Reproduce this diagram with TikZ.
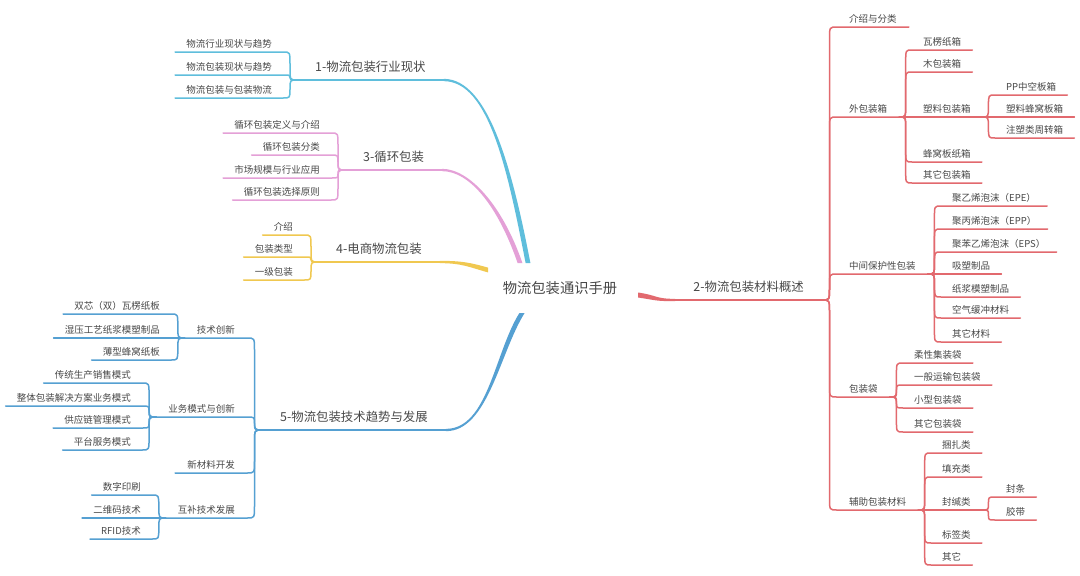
\documentclass[tikz,border=0pt]{standalone}
\usepackage{fontspec}
\setmainfont{Noto Sans CJK SC}
\usetikzlibrary{calc}
\definecolor{cyanc}{RGB}{95,190,220}
\definecolor{pinkc}{RGB}{228,160,215}
\definecolor{yellc}{RGB}{240,200,80}
\definecolor{bluec}{RGB}{85,160,210}
\definecolor{redc}{RGB}{226,105,110}
\definecolor{txtc}{RGB}{72,72,72}
\tikzset{
  leaf/.style={font=\fontsize{9.5}{11}\selectfont, text=txtc, inner xsep=11pt, inner ysep=4.5pt, text height=8pt, text depth=0pt},
  mid/.style={leaf, inner xsep=12pt},
  mainlbl/.style={font=\fontsize{12.4}{14}\selectfont, text=txtc, inner xsep=18pt, inner ysep=8.5pt, text height=10pt, text depth=0pt},
  Rn/.style={anchor=south west},
  Ln/.style={anchor=south east},
  subln/.style={line width=1.5pt, line cap=round, line join=round},
  mainln/.style={line width=2.3pt, line cap=round}
}
\newcommand\brc[4]{\draw[subln,#1] let \p1=(#2), \p2=(#3), \n1={max(-12,min(12,(\y2-\y1)/2))}, \n2={(\x2-\x1)/2} in (\p1) .. controls ({\x1+\n2},\y1) .. ({\x1+\n2},{\y1+(\n1)}) -- ({\x1+\n2},{\y2-(\n1)}) .. controls ({\x1+\n2},\y2) .. (\p2) -- (#4);}
\begin{document}
\begin{tikzpicture}[x=1pt,y=-1pt]
\fill[white] (0,0) rectangle (1080,576);
\useasboundingbox (0,0) rectangle (1080,576);

% centre
\node[font=\fontsize{14.3}{16}\selectfont, text=txtc] (ct) at (560,288) {物流包装通识手册};
\coordinate (e1) at (528,263);
\coordinate (e3) at (520,263);
\coordinate (e4) at (488,270);
\coordinate (e5) at (522,313);
\coordinate (e2) at (638,295);

% ---------- branch 1 ----------
\node[mainlbl,anchor=south west] (b1) at (297,80) {1-物流包装行业现状};
\node[leaf,Ln] (b1a) at (283,52) {物流行业现状与趋势};
\node[leaf,Ln] (b1b) at (283,75) {物流包装现状与趋势};
\node[leaf,Ln] (b1c) at (283,98) {物流包装与包装物流};
\draw[mainln,cyanc] (b1.south west) -- (b1.south east);
\fill[cyanc] ([yshift=1.15pt]b1.south east) .. controls +(45,0) and +(-18,-93) .. ([xshift=2.4pt]e1) -- ([xshift=-2.4pt]e1) .. controls +(-18,-93) and +(45,0) .. ([yshift=-1.15pt]b1.south east) -- cycle;
\brc{cyanc}{b1.south west}{b1a.south east}{b1a.south west}
\brc{cyanc}{b1.south west}{b1b.south east}{b1b.south west}
\brc{cyanc}{b1.south west}{b1c.south east}{b1c.south west}

% ---------- branch 3 ----------
\node[mainlbl,anchor=south west] (b3) at (345,170) {3-循环包装};
\node[leaf,Ln] (b3a) at (331,133) {循环包装定义与介绍};
\node[leaf,Ln] (b3b) at (331,155) {循环包装分类};
\node[leaf,Ln] (b3c) at (331,178) {市场规模与行业应用};
\node[leaf,Ln] (b3d) at (331,200) {循环包装选择原则};
\draw[mainln,pinkc] (b3.south west) -- (b3.south east);
\fill[pinkc] ([yshift=1.15pt]b3.south east) .. controls +(27,0) and +(-20,-58) .. ([xshift=2.4pt]e3) -- ([xshift=-2.4pt]e3) .. controls +(-20,-58) and +(27,0) .. ([yshift=-1.15pt]b3.south east) -- cycle;
\brc{pinkc}{b3.south west}{b3a.south east}{b3a.south west}
\brc{pinkc}{b3.south west}{b3b.south east}{b3b.south west}
\brc{pinkc}{b3.south west}{b3c.south east}{b3c.south west}
\brc{pinkc}{b3.south west}{b3d.south east}{b3d.south west}

% ---------- branch 4 ----------
\node[mainlbl,anchor=south west] (b4) at (318,262) {4-电商物流包装};
\node[leaf,Ln] (b4a) at (304,235) {介绍};
\node[leaf,Ln] (b4b) at (304,257) {包装类型};
\node[leaf,Ln] (b4c) at (304,280) {一级包装};
\draw[mainln,yellc] (b4.south west) -- (b4.south east);
\fill[yellc] ([yshift=1.15pt]b4.south east) .. controls +(22,0) and +(-18,-5) .. ([yshift=2.4pt]e4) -- ([yshift=-2.4pt]e4) .. controls +(-18,-5) and +(22,0) .. ([yshift=-1.15pt]b4.south east) -- cycle;
\brc{yellc}{b4.south west}{b4a.south east}{b4a.south west}
\brc{yellc}{b4.south west}{b4b.south east}{b4b.south west}
\brc{yellc}{b4.south west}{b4c.south east}{b4c.south west}

% ---------- branch 5 ----------
\node[mainlbl,anchor=south west] (b5) at (262,430) {5-物流包装技术趋势与发展};
\node[mid,Ln] (b5a) at (247,338) {技术创新};
\node[leaf,Ln] (b5a1) at (171,314) {双芯（双）瓦楞纸板};
\node[leaf,Ln] (b5a2) at (171,338) {湿压工艺纸浆模塑制品};
\node[leaf,Ln] (b5a3) at (171,360) {薄型蜂窝纸板};
\node[mid,Ln] (b5b) at (247,417) {业务模式与创新};
\node[leaf,Ln] (b5b1) at (142,383) {传统生产销售模式};
\node[leaf,Ln] (b5b2) at (142,406) {整体包装解决方案业务模式};
\node[leaf,Ln] (b5b3) at (142,428) {供应链管理模式};
\node[leaf,Ln] (b5b4) at (142,450) {平台服务模式};
\node[mid,Ln] (b5c) at (247,473) {新材料开发};
\node[mid,Ln] (b5d) at (247,518) {互补技术发展};
\node[leaf,Ln] (b5d1) at (152,495) {数字印刷};
\node[leaf,Ln] (b5d2) at (152,518) {二维码技术};
\node[leaf,Ln] (b5d3) at (152,539) {RFID技术};
\draw[mainln,bluec] (b5.south west) -- (b5.south east);
\fill[bluec] ([yshift=-1.15pt]b5.south east) .. controls +(42,0) and +(-25,40) .. ([xshift=2.6pt]e5) -- ([xshift=-2.6pt]e5) .. controls +(-25,40) and +(42,0) .. ([yshift=1.15pt]b5.south east) -- cycle;
\brc{bluec}{b5.south west}{b5a.south east}{b5a.south west}
\brc{bluec}{b5.south west}{b5b.south east}{b5b.south west}
\brc{bluec}{b5.south west}{b5c.south east}{b5c.south west}
\brc{bluec}{b5.south west}{b5d.south east}{b5d.south west}
\brc{bluec}{b5a.south west}{b5a1.south east}{b5a1.south west}
\brc{bluec}{b5a.south west}{b5a2.south east}{b5a2.south west}
\brc{bluec}{b5a.south west}{b5a3.south east}{b5a3.south west}
\brc{bluec}{b5b.south west}{b5b1.south east}{b5b1.south west}
\brc{bluec}{b5b.south west}{b5b2.south east}{b5b2.south west}
\brc{bluec}{b5b.south west}{b5b3.south east}{b5b3.south west}
\brc{bluec}{b5b.south west}{b5b4.south east}{b5b4.south west}
\brc{bluec}{b5d.south west}{b5d1.south east}{b5d1.south west}
\brc{bluec}{b5d.south west}{b5d2.south east}{b5d2.south west}
\brc{bluec}{b5d.south west}{b5d3.south east}{b5d3.south west}

% ---------- branch 2 ----------
\node[mainlbl,anchor=south east] (b2) at (822,300) {2-物流包装材料概述};
\node[mid,Rn] (b2a) at (837,27) {介绍与分类};
\node[mid,Rn] (b2b) at (837,117) {外包装箱};
\node[leaf,Rn] (b2b1) at (912,50) {瓦楞纸箱};
\node[leaf,Rn] (b2b2) at (912,72) {木包装箱};
\node[leaf,Rn] (b2b3) at (912,117) {塑料包装箱};
\node[leaf,Rn] (b2b3a) at (995,95) {PP中空板箱};
\node[leaf,Rn] (b2b3b) at (995,117) {塑料蜂窝板箱};
\node[leaf,Rn] (b2b3c) at (995,138) {注塑类周转箱};
\node[leaf,Rn] (b2b4) at (912,162) {蜂窝板纸箱};
\node[leaf,Rn] (b2b5) at (912,183) {其它包装箱};
\node[mid,Rn] (b2c) at (837,274) {中间保护性包装};
\node[leaf,Rn] (b2c1) at (941,206) {聚乙烯泡沫（EPE）};
\node[leaf,Rn] (b2c2) at (941,229) {聚丙烯泡沫（EPP）};
\node[leaf,Rn] (b2c3) at (941,252) {聚苯乙烯泡沫（EPS）};
\node[leaf,Rn] (b2c4) at (941,274) {吸塑制品};
\node[leaf,Rn] (b2c5) at (941,297) {纸浆模塑制品};
\node[leaf,Rn] (b2c6) at (941,318) {空气缓冲材料};
\node[leaf,Rn] (b2c7) at (941,342) {其它材料};
\node[mid,Rn] (b2d) at (837,397) {包装袋};
\node[leaf,Rn] (b2d1) at (903,363) {柔性集装袋};
\node[leaf,Rn] (b2d2) at (903,385) {一般运输包装袋};
\node[leaf,Rn] (b2d3) at (903,408) {小型包装袋};
\node[leaf,Rn] (b2d4) at (903,432) {其它包装袋};
\node[mid,Rn] (b2e) at (837,510) {辅助包装材料};
\node[leaf,Rn] (b2e1) at (931,453) {捆扎类};
\node[leaf,Rn] (b2e2) at (931,477) {填充类};
\node[leaf,Rn] (b2e3) at (931,510) {封缄类};
\node[leaf,Rn] (b2e3a) at (995,497) {封条};
\node[leaf,Rn] (b2e3b) at (995,520) {胶带};
\node[leaf,Rn] (b2e4) at (931,543) {标签类};
\node[leaf,Rn] (b2e5) at (931,565) {其它};
\draw[mainln,redc] (b2.south west) -- (b2.south east);
\fill[redc] ([yshift=2.5pt]e2) .. controls +(20,3) and +(-20,0) .. ([yshift=1.15pt]b2.south west) -- ([yshift=-1.15pt]b2.south west) .. controls +(-20,0) and +(20,3) .. ([yshift=-2.5pt]e2) -- cycle;
\brc{redc}{b2.south east}{b2a.south west}{b2a.south east}
\brc{redc}{b2.south east}{b2b.south west}{b2b.south east}
\brc{redc}{b2.south east}{b2c.south west}{b2c.south east}
\brc{redc}{b2.south east}{b2d.south west}{b2d.south east}
\brc{redc}{b2.south east}{b2e.south west}{b2e.south east}
\brc{redc}{b2b.south east}{b2b1.south west}{b2b1.south east}
\brc{redc}{b2b.south east}{b2b2.south west}{b2b2.south east}
\brc{redc}{b2b.south east}{b2b3.south west}{b2b3.south east}
\brc{redc}{b2b.south east}{b2b4.south west}{b2b4.south east}
\brc{redc}{b2b.south east}{b2b5.south west}{b2b5.south east}
\brc{redc}{b2b3.south east}{b2b3a.south west}{b2b3a.south east}
\brc{redc}{b2b3.south east}{b2b3b.south west}{b2b3b.south east}
\brc{redc}{b2b3.south east}{b2b3c.south west}{b2b3c.south east}
\brc{redc}{b2c.south east}{b2c1.south west}{b2c1.south east}
\brc{redc}{b2c.south east}{b2c2.south west}{b2c2.south east}
\brc{redc}{b2c.south east}{b2c3.south west}{b2c3.south east}
\brc{redc}{b2c.south east}{b2c4.south west}{b2c4.south east}
\brc{redc}{b2c.south east}{b2c5.south west}{b2c5.south east}
\brc{redc}{b2c.south east}{b2c6.south west}{b2c6.south east}
\brc{redc}{b2c.south east}{b2c7.south west}{b2c7.south east}
\brc{redc}{b2d.south east}{b2d1.south west}{b2d1.south east}
\brc{redc}{b2d.south east}{b2d2.south west}{b2d2.south east}
\brc{redc}{b2d.south east}{b2d3.south west}{b2d3.south east}
\brc{redc}{b2d.south east}{b2d4.south west}{b2d4.south east}
\brc{redc}{b2e.south east}{b2e1.south west}{b2e1.south east}
\brc{redc}{b2e.south east}{b2e2.south west}{b2e2.south east}
\brc{redc}{b2e.south east}{b2e3.south west}{b2e3.south east}
\brc{redc}{b2e.south east}{b2e4.south west}{b2e4.south east}
\brc{redc}{b2e.south east}{b2e5.south west}{b2e5.south east}
\brc{redc}{b2e3.south east}{b2e3a.south west}{b2e3a.south east}
\brc{redc}{b2e3.south east}{b2e3b.south west}{b2e3b.south east}
\end{tikzpicture}
\end{document}
